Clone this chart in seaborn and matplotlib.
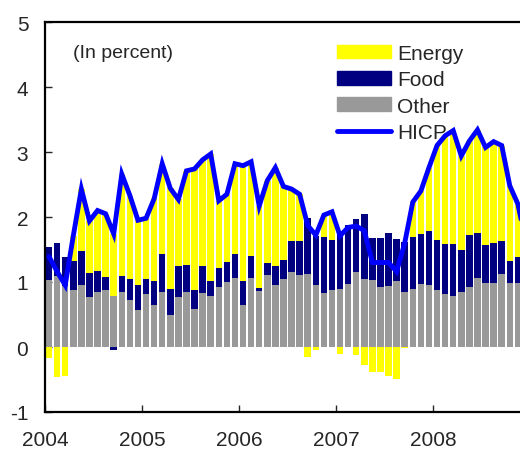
import numpy as np
import pandas as pd
import matplotlib
matplotlib.use("Agg")
import matplotlib.pyplot as plt
import seaborn as sns
from matplotlib.patches import Patch
from matplotlib.lines import Line2D

# ---- data (monthly, Jan 2004 - Dec 2008), percentage points ----
other = [1.03, 1.10, 0.94, 0.88, 0.95, 0.77, 0.85, 0.88, 0.79, 0.84, 0.73, 0.57,
         0.81, 0.64, 0.85, 0.50, 0.77, 0.85, 0.58, 0.83, 0.79, 0.92, 1.00, 1.06,
         0.65, 1.06, 0.86, 1.11, 0.96, 1.04, 1.15, 1.11, 1.12, 0.96, 0.83, 0.88,
         0.89, 0.97, 1.15, 1.05, 1.03, 0.93, 0.94, 1.01, 0.85, 0.90, 0.97, 0.95,
         0.88, 0.82, 0.78, 0.85, 0.92, 1.06, 0.99, 0.98, 1.12, 0.99, 0.98, 1.00]
food = [0.51, 0.50, 0.45, 0.45, 0.52, 0.37, 0.32, 0.19, -0.04, 0.26, 0.32, 0.39,
        0.24, 0.37, 0.58, 0.40, 0.48, 0.41, 0.29, 0.42, 0.22, 0.30, 0.31, 0.37,
        0.37, 0.34, 0.05, 0.19, 0.28, 0.30, 0.48, 0.52, 0.87, 0.75, 0.86, 0.77,
        0.90, 0.91, 0.82, 1.00, 0.65, 0.75, 0.81, 0.65, 0.77, 0.80, 0.77, 0.83,
        0.77, 0.77, 0.81, 0.64, 0.81, 0.70, 0.58, 0.62, 0.51, 0.34, 0.41, 0.30]
energy = [-0.17, -0.46, -0.44, 0.38, 0.96, 0.80, 0.93, 0.98, 0.95, 1.56, 1.28, 1.00,
          0.94, 1.28, 1.39, 1.54, 1.02, 1.45, 1.87, 1.63, 1.96, 1.03, 1.04, 1.39,
          1.77, 1.45, 1.26, 1.26, 1.52, 1.13, 0.80, 0.72, -0.15, -0.04, 0.34, 0.43,
          -0.11, 0.00, -0.13, -0.28, -0.38, -0.39, -0.45, -0.49, -0.02, 0.53, 0.66, 0.98,
          1.45, 1.66, 1.74, 1.45, 1.44, 1.58, 1.50, 1.56, 1.47, 1.15, 0.81, 0.30]
hicp = [1.39, 1.16, 0.95, 1.71, 2.43, 1.94, 2.10, 2.05, 1.74, 2.66, 2.33, 1.95,
        1.98, 2.28, 2.82, 2.44, 2.27, 2.71, 2.74, 2.88, 2.97, 2.25, 2.35, 2.82,
        2.79, 2.85, 2.17, 2.56, 2.76, 2.47, 2.43, 2.35, 1.87, 1.72, 2.03, 2.08,
        1.71, 1.84, 1.86, 1.79, 1.30, 1.30, 1.30, 1.16, 1.60, 2.23, 2.40, 2.76,
        3.10, 3.25, 3.33, 2.94, 3.17, 3.34, 3.07, 3.16, 3.10, 2.48, 2.20, 1.60]
year_labels = ["2004", "2005", "2006", "2007", "2008"]
series_names = ["Energy", "Food", "Other", "HICP"]

C_EN, C_FO, C_OT, C_HI = "#FFFF00", "#000080", "#999999", "#0000FF"

sns.set_style("ticks")
plt.rcParams["font.family"] = ["Liberation Sans", "DejaVu Sans"]
plt.rcParams["axes.unicode_minus"] = False

o = np.array(other)
f = np.array(food)
e = np.array(energy)
idx = np.arange(len(o))

navy_top = o + np.clip(f, 0, None)
yellow_top = navy_top + np.clip(e, 0, None)
food_neg = np.clip(f, None, 0)
energy_neg = food_neg + np.clip(e, None, 0)

W, H = 520, 452
fig = plt.figure(figsize=(W / 100, H / 100), dpi=100)
ax = fig.add_axes([45 / W, 39 / H, 485 / W, 390 / H])

bar_kw = dict(width=0.8, saturation=1, linewidth=0, errorbar=None, ax=ax)
sns.barplot(x=idx, y=yellow_top, color=C_EN, **bar_kw)
sns.barplot(x=idx, y=navy_top, color=C_FO, **bar_kw)
sns.barplot(x=idx, y=o, color=C_OT, **bar_kw)
sns.barplot(x=idx, y=energy_neg, color=C_EN, **bar_kw)
sns.barplot(x=idx, y=food_neg, color=C_FO, **bar_kw)
sns.lineplot(x=idx, y=np.array(hicp), color=C_HI, linewidth=3.5, ax=ax,
             solid_joinstyle="miter")

ax.set_xlim(-0.5, len(o) - 0.5)
ax.set_ylim(-1, 5)
ax.set_yticks(range(-1, 6))
ax.set_yticklabels([str(v) for v in range(-1, 6)])
ax.set_xticks([-0.5 + 12 * k for k in range(len(year_labels))])
ax.set_xticklabels(year_labels)
ax.tick_params(axis="both", direction="in", length=5, width=1, labelsize=15)
ax.tick_params(axis="x", pad=13)
ax.tick_params(axis="y", pad=12)
ax.set_xlabel("")
ax.set_ylabel("")
for s in ["left", "bottom", "top", "right"]:
    ax.spines[s].set_linewidth(1.6)
    ax.spines[s].set_color("black")

ax.text(73 / W, 1 - 53 / H, "(In percent)", transform=fig.transFigure,
        fontsize=14, va="center", ha="left")

handles = [Patch(color=C_EN), Patch(color=C_FO), Patch(color=C_OT),
           Line2D([], [], color=C_HI, linewidth=3.5)]
ax.legend(handles, series_names, loc="upper left",
          bbox_to_anchor=(337 / W, 1 - 45 / H), bbox_transform=fig.transFigure,
          frameon=False, fontsize=15, handlelength=2.6, handleheight=0.63,
          handletextpad=0.29, labelspacing=0.35, borderpad=0, borderaxespad=0)

fig.savefig("out.png", dpi=100)
